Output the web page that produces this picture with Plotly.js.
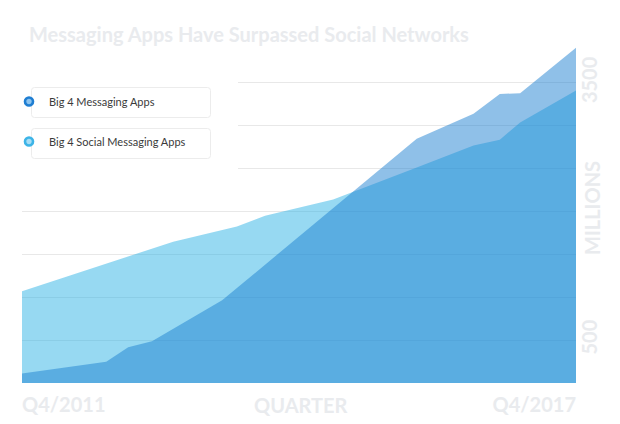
<!DOCTYPE html>
<html>
<head>
<meta charset="utf-8">
<script src="https://cdn.plot.ly/plotly-3.0.1.min.js"></script>
<style>
  html, body { margin: 0; padding: 0; background: #ffffff; }
  #chart { width: 620px; height: 424px; }
</style>
</head>
<body>
<div id="chart"></div>
<script>
// ---- data ----
const chartTitle = "Messaging Apps Have Surpassed Social Networks";
const seriesNames = ["Big 4 Messaging Apps", "Big 4 Social Messaging Apps"];
// x = quarters after Q4/2011 (0 = Q4/2011, 24 = Q4/2017)
const messagingX = [0, 3.65, 4.60, 5.63, 8.67, 17.10, 19.56, 20.70, 21.58, 24];
const messagingY = [110, 247, 416, 486, 964, 2848, 3140, 3371, 3380, 3909];
const socialX = [0, 6.55, 9.31, 10.53, 13.48, 17.10, 19.56, 20.70, 21.58, 24];
const socialY = [1069, 1648, 1826, 1949, 2141, 2512, 2770, 2837, 3038, 3411];
const xTickStart = [0];
const xTickStartText = ["Q4/2011"];
const xTickEnd = [24];
const xTickEndText = ["Q4/2017"];
const yTickVals = [500, 1000, 1500, 2000, 2500, 3000, 3500];
const yTickText = ["500", "", "", "", "", "", "3500"];
const xTitle = "QUARTER";
const yTitle = "MILLIONS";

// ---- styles ----
const W = 620, H = 424;
const M = { l: 22, r: 44, t: 40, b: 41, autoexpand: false };
const faint = "#e9ebee";
const axisFont = { family: "Lato, sans-serif", size: 20, color: faint, weight: 700 };
const cx = px => px / W;          // container x
const cy = py => 1 - py / H;      // container y
const pw = W - M.l - M.r, ph = H - M.t - M.b;
const paperX = px => (px - M.l) / pw;
const paperY = py => (H - M.b - py) / ph;

function roundRect(x0, y0, x1, y1, r) {
  const X0 = paperX(x0), X1 = paperX(x1), Y0 = paperY(y0), Y1 = paperY(y1);
  const rx = r / pw, ry = r / ph;
  return `M ${X0 + rx},${Y0} L ${X1 - rx},${Y0} Q ${X1},${Y0} ${X1},${Y0 - ry} ` +
         `L ${X1},${Y1 + ry} Q ${X1},${Y1} ${X1 - rx},${Y1} L ${X0 + rx},${Y1} ` +
         `Q ${X0},${Y1} ${X0},${Y1 + ry} L ${X0},${Y0 - ry} Q ${X0},${Y0} ${X0 + rx},${Y0} Z`;
}

const traces = [
  {
    type: "scatter", x: socialX, y: socialY, mode: "none",
    fill: "tozeroy", fillcolor: "rgba(43,177,228,0.49)",
    showlegend: false, hoverinfo: "skip"
  },
  {
    type: "scatter", x: messagingX, y: messagingY, mode: "none",
    fill: "tozeroy", fillcolor: "rgba(27,126,208,0.49)",
    showlegend: false, hoverinfo: "skip"
  },
  {
    type: "scatter", x: [null], y: [null], xaxis: "x2", mode: "markers", name: seriesNames[0],
    marker: { symbol: "circle", size: 8, color: "#8cc3ee", line: { color: "#1f7ed2", width: 2.6 } },
    legend: "legend", hoverinfo: "skip"
  },
  {
    type: "scatter", x: [null], y: [null], xaxis: "x2", mode: "markers", name: seriesNames[1],
    marker: { symbol: "circle", size: 8, color: "#a7ddf5", line: { color: "#3db4e7", width: 2.6 } },
    legend: "legend2", hoverinfo: "skip"
  }
];

const legendBase = {
  xref: "paper", yref: "paper", xanchor: "left", yanchor: "top",
  bgcolor: "rgba(0,0,0,0)", borderwidth: 0,
  font: { family: "Lato, sans-serif", size: 11, color: "#3a3a3a" },
  itemclick: false, itemdoubleclick: false
};

const layout = {
  width: W, height: H, margin: M,
  paper_bgcolor: "#ffffff", plot_bgcolor: "#ffffff",
  hovermode: false,
  title: {
    text: chartTitle, xref: "container", yref: "container",
    x: cx(29), xanchor: "left", y: cy(28), yanchor: "top",
    font: { family: "Lato, sans-serif", size: 20, color: faint, weight: 700 }
  },
  xaxis: {
    range: [0, 24], showgrid: false, zeroline: false, showline: false, ticks: "",
    tickmode: "array", tickvals: xTickStart, ticktext: xTickStartText,
    ticklabelposition: "outside right", ticklabelstandoff: 8, tickfont: axisFont, fixedrange: true
  },
  xaxis2: {
    overlaying: "x", matches: "x", anchor: "y", side: "bottom",
    range: [0, 24], showgrid: false, zeroline: false, showline: false, ticks: "",
    tickmode: "array", tickvals: xTickEnd, ticktext: xTickEndText,
    ticklabelposition: "outside left", ticklabelstandoff: 8, tickfont: axisFont, fixedrange: true
  },
  yaxis: {
    side: "right", range: [0, 4000], zeroline: false, showline: false, ticks: "",
    tickmode: "array", tickvals: yTickVals, ticktext: yTickText,
    tickangle: -90, tickfont: axisFont,
    showgrid: true, gridcolor: "#e8e8e8", gridwidth: 1, fixedrange: true
  },
  legend: Object.assign({}, legendBase, { x: paperX(9), y: paperY(87) }),
  legend2: Object.assign({}, legendBase, { x: paperX(9), y: paperY(127) }),
  shapes: [
    { type: "rect", xref: "paper", yref: "paper", layer: "above",
      x0: paperX(0), x1: paperX(238), y0: paperY(185), y1: paperY(55),
      fillcolor: "#ffffff", line: { width: 0 } },
    { type: "path", xref: "paper", yref: "paper", layer: "above",
      path: roundRect(31.5, 87.5, 210.5, 117.5, 3),
      fillcolor: "#ffffff", line: { color: "#ececec", width: 1 } },
    { type: "path", xref: "paper", yref: "paper", layer: "above",
      path: roundRect(31.5, 128.5, 210.5, 158.5, 3),
      fillcolor: "#ffffff", line: { color: "#ececec", width: 1 } }
  ],
  annotations: [
    { text: xTitle, xref: "paper", yref: "paper", x: paperX(301), y: paperY(405),
      xanchor: "center", yanchor: "middle", showarrow: false, font: axisFont },
    { text: yTitle, xref: "paper", yref: "paper", x: paperX(592), y: paperY(208),
      xanchor: "center", yanchor: "middle", textangle: -90, showarrow: false, font: axisFont }
  ]
};

Plotly.newPlot("chart", traces, layout, { staticPlot: true, displayModeBar: false });
</script>
</body>
</html>
